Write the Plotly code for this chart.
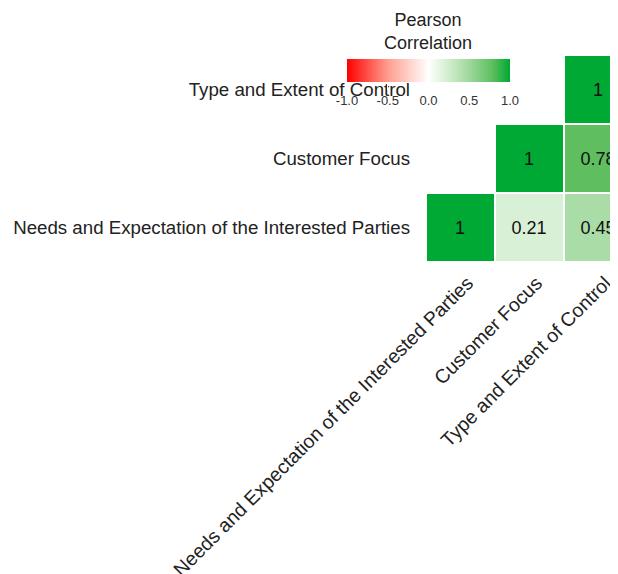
import plotly.graph_objects as go

labels = ["Needs and Expectation of the Interested Parties", "Customer Focus", "Type and Extent of Control"]
# rows bottom->top, columns left->right; None = hidden upper triangle
corr = [
    [1, 0.21, 0.45],
    [None, 1, 0.78],
    [None, None, 1],
]
cbar_ticks = [-1.0, -0.5, 0.0, 0.5, 1.0]
cbar_ticktext = ["-1.0", "-0.5", "0.0", "0.5", "1.0"]

colorscale = [
    [0.0, "#ff0000"],
    [0.25, "#ff9d8f"],
    [0.5, "#ffffff"],
    [0.605, "#d8f0d5"],
    [0.725, "#a9dca6"],
    [0.89, "#5fbf60"],
    [1.0, "#00a933"],
]

FONT = "Liberation Sans, Arial"

fig = go.Figure(go.Heatmap(
    z=corr,
    x=labels,
    y=labels,
    zmin=-1, zmax=1,
    colorscale=colorscale,
    xgap=2, ygap=2,
    texttemplate="%{z}",
    textfont=dict(size=18, color="#111111", family=FONT),
    hoverongaps=False,
    colorbar=dict(
        orientation="h",
        lenmode="pixels", len=163,
        thickness=23,
        x=-0.395, xanchor="left",
        y=0.98, yanchor="top",
        tickvals=cbar_ticks, ticktext=cbar_ticktext,
        ticks="outside", ticklen=8, tickcolor="white",
        tickfont=dict(size=13, color="#333333", family=FONT),
        outlinewidth=0,
        ypad=0, xpad=0,
    ),
))

fig.add_annotation(
    text="Pearson<br>Correlation", xref="paper", yref="paper",
    x=0.01, y=1.115, showarrow=False, xanchor="center", yanchor="middle",
    font=dict(size=18, color="#222222", family=FONT),
)

fig.update_layout(
    width=618, height=574,
    margin=dict(l=418, r=0, t=47, b=320),
    paper_bgcolor="white", plot_bgcolor="white",
    xaxis=dict(range=[-0.5, 2.4], tickangle=-45, showgrid=False, zeroline=False,
               tickfont=dict(size=19.5, color="#222222", family=FONT),
               ticklabelstandoff=5, ticklabelshift=7,
               ticks="", showline=False, type="category"),
    yaxis=dict(range=[-0.5, 2.5], showgrid=False, zeroline=False, ticks="",
               ticklabelstandoff=15,
               tickfont=dict(size=18.7, color="#222222", family=FONT),
               type="category"),
)

fig.write_html("out.html")
